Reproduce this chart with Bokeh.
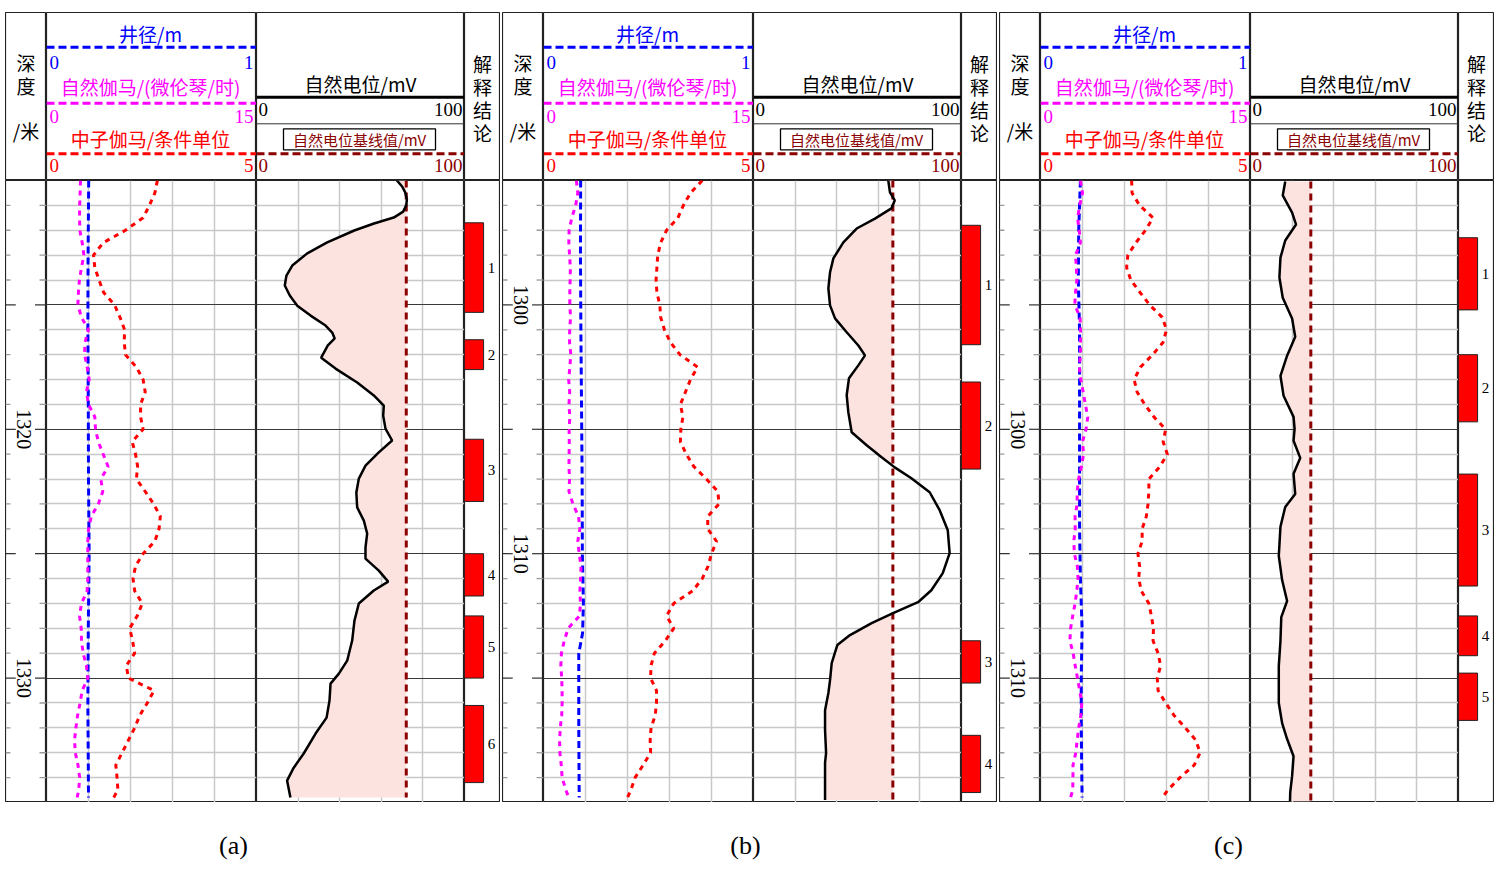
import numpy as np
from bokeh.plotting import figure
from bokeh.models import Range1d, FixedTicker, Grid, Spacer
from bokeh.layouts import row, column
from bokeh.embed import file_html
from bokeh.resources import INLINE
from bokeh.core.properties import value

CJK = "Noto Sans CJK SC"
SERIF = "Liberation Serif"

# ---------------- track scales ----------------
CAL_RANGE = (0, 1)      # 井径/m
NG_RANGE = (0, 15)      # 自然伽马
NR_RANGE = (0, 5)       # 中子伽马
SP_RANGE = (0, 100)     # 自然电位

# ---------------- panel (a) ----------------
A_TOP, A_BOT = 1310, 1335
A_LABELS = [1320, 1330]
A_DEPTH = [1310.0 + 0.5 * i for i in range(50)] + [1334.8]
A_NG = [2.43, 2.4, 2.37, 2.36, 2.38, 2.55, 2.67, 2.5, 2.35, 2.28,
        2.24, 2.5, 3.0, 2.75, 2.72, 2.9, 3.05, 2.85, 3.0, 3.45,
        3.5, 3.7, 4.05, 4.4, 3.88, 4.02, 3.7, 3.2, 3.0, 2.95,
        2.95, 2.95, 2.95, 2.9, 2.5, 2.36, 2.48, 2.5, 2.62, 2.85,
        2.95, 2.55, 2.4, 2.22, 2.1, 2.0, 2.06, 2.25, 2.37, 2.3, 2.19]
A_NR = [2.64, 2.58, 2.45, 2.3, 1.88, 1.35, 1.12, 1.15, 1.25, 1.36,
        1.62, 1.75, 1.86, 1.85, 1.88, 2.14, 2.3, 2.35, 2.24, 2.24,
        2.3, 2.04, 2.12, 2.17, 2.14, 2.35, 2.55, 2.71, 2.68, 2.58,
        2.3, 2.12, 2.06, 2.1, 2.28, 2.16, 1.98, 2.05, 2.1, 1.9,
        1.95, 2.56, 2.4, 2.22, 2.1, 1.95, 1.8, 1.65, 1.68, 1.7, 1.6]
A_CAL_DEPTH = [1310, 1313, 1316, 1319, 1322, 1325, 1328, 1331, 1334.8]
A_CAL = [0.201, 0.198, 0.197, 0.199, 0.2, 0.203, 0.199, 0.197, 0.2]
A_SP_DEPTH = [1310.0, 1310.24, 1310.48, 1310.76, 1311.0, 1311.25, 1311.49, 1311.73, 1312.01,
              1312.49, 1312.93, 1313.42, 1313.82, 1314.22, 1314.62, 1315.03, 1315.43, 1315.83,
              1316.11, 1316.35, 1316.63, 1317.12, 1317.56, 1318.12, 1318.64, 1319.05, 1319.45,
              1319.97, 1320.45, 1320.93, 1321.46, 1321.98, 1322.54, 1323.14, 1323.67, 1324.19,
              1324.75, 1325.2, 1325.68, 1326.12, 1326.48, 1327.0, 1327.69, 1328.49, 1329.3,
              1329.82, 1330.22, 1330.9, 1331.59, 1332.23, 1333.03, 1333.6, 1334.12, 1334.8]
A_SP = [67.5, 70.0, 71.5, 72.3, 72.0, 70.5, 66.0, 56.5, 47.0,
        34.0, 24.4, 17.2, 14.4, 13.6, 16.0, 19.6, 26.0, 33.2,
        36.4, 37.6, 34.3, 31.1, 38.0, 48.4, 56.4, 61.2, 60.9,
        62.0, 65.2, 58.8, 52.4, 49.2, 48.0, 48.4, 51.6, 53.2,
        52.4, 52.4, 58.8, 63.3, 56.4, 49.2, 47.1, 46.0, 43.6,
        39.6, 35.6, 35.1, 33.7, 28.4, 22.7, 17.9, 14.7, 16.3]
A_SP_BASE = 72
A_BAR_TOP = [1311.7, 1316.4, 1320.4, 1325.0, 1327.5, 1331.1]
A_BAR_BOT = [1315.3, 1317.6, 1322.9, 1326.7, 1330.0, 1334.2]

# ---------------- panel (b) ----------------
B_TOP, B_BOT = 1295, 1320
B_LABELS = [1300, 1310]
B_DEPTH = [1295.0 + 0.5 * i for i in range(50)] + [1319.8]
B_NG = [2.35, 2.45, 2.3, 2.02, 1.83, 1.81, 1.86, 1.92, 1.9, 1.88,
        1.88, 1.93, 1.87, 1.86, 1.95, 1.88, 1.8, 1.87, 1.82, 1.88,
        1.83, 1.84, 1.83, 1.82, 1.86, 1.82, 2.1, 2.5, 2.6, 2.45,
        2.55, 2.68, 2.65, 2.6, 2.64, 2.57, 1.76, 1.48, 1.28, 1.24,
        1.3, 1.33, 1.33, 1.3, 1.2, 1.15, 1.17, 1.27, 1.33, 1.6, 1.8]
B_NR = [3.78, 3.5, 3.33, 3.2, 2.93, 2.79, 2.72, 2.7, 2.68, 2.7,
        2.77, 2.79, 2.88, 3.02, 3.25, 3.67, 3.5, 3.38, 3.26, 3.32,
        3.27, 3.26, 3.4, 3.58, 3.88, 4.15, 4.18, 3.91, 3.91, 4.12,
        4.0, 3.92, 3.78, 3.55, 3.1, 2.93, 3.1, 2.9, 2.64, 2.56,
        2.55, 2.69, 2.69, 2.66, 2.56, 2.54, 2.55, 2.37, 2.18, 2.08, 2.0]
B_CAL_DEPTH = [1295, 1298, 1301, 1304, 1307, 1310, 1312, 1313.2, 1314, 1317, 1319.8]
B_CAL = [0.177, 0.176, 0.178, 0.181, 0.184, 0.185, 0.19, 0.186, 0.168, 0.168, 0.17]
B_SP_DEPTH = [1295.0, 1295.48, 1295.8, 1296.12, 1296.53, 1296.93, 1297.49, 1298.13, 1298.69,
              1299.34, 1300.02, 1300.54, 1301.1, 1301.63, 1302.03, 1302.43, 1302.95, 1303.63,
              1304.32, 1305.12, 1305.64, 1306.12, 1306.53, 1306.97, 1307.53, 1308.25, 1309.06,
              1309.98, 1310.78, 1311.47, 1311.95, 1312.39, 1312.79, 1313.27, 1313.67, 1314.4,
              1315.08, 1315.6, 1316.29, 1317.09, 1318.01, 1318.41, 1319.9]
B_SP = [64.8, 65.6, 67.9, 66.3, 58.4, 49.6, 43.2, 38.4, 36.8,
        36.0, 36.8, 39.2, 44.8, 50.4, 53.6, 50.4, 45.9, 44.8,
        45.6, 47.2, 54.4, 61.6, 67.9, 75.9, 84.7, 89.5, 93.4,
        94.3, 91.0, 85.5, 79.1, 67.1, 56.8, 46.4, 40.3, 37.6,
        36.8, 36.0, 34.4, 34.4, 34.9, 34.4, 34.4]
B_SP_BASE = 67
B_BAR_TOP = [1296.8, 1303.1, 1313.5, 1317.3]
B_BAR_BOT = [1301.6, 1306.6, 1315.2, 1319.6]

# ---------------- panel (c) ----------------
C_TOP, C_BOT = 1290, 1315
C_LABELS = [1300, 1310]
C_DEPTH = [1290.0 + 0.5 * i for i in range(50)] + [1314.8]
C_NG = [2.85, 3.0, 2.8, 2.65, 2.76, 2.85, 2.5, 2.56, 2.6, 2.5,
        2.45, 2.83, 2.86, 2.86, 2.86, 2.77, 2.88, 3.05, 3.2, 3.38,
        3.25, 3.0, 3.08, 2.92, 2.72, 2.62, 2.62, 2.47, 2.48, 2.38,
        2.42, 2.63, 2.68, 2.59, 2.47, 2.3, 2.15, 2.1, 2.33, 2.48,
        2.64, 2.8, 2.95, 2.88, 2.73, 2.62, 2.52, 2.32, 2.32, 2.3, 2.15]
C_NR = [2.17, 2.18, 2.36, 2.68, 2.5, 2.27, 2.08, 2.05, 2.15, 2.37,
        2.6, 2.9, 3.0, 2.92, 2.67, 2.38, 2.23, 2.3, 2.48, 2.7,
        2.98, 2.92, 3.02, 2.84, 2.58, 2.58, 2.56, 2.52, 2.42, 2.42,
        2.32, 2.36, 2.34, 2.4, 2.58, 2.64, 2.69, 2.68, 2.8, 2.86,
        2.78, 2.8, 2.98, 3.18, 3.45, 3.7, 3.8, 3.66, 3.32, 3.03, 2.9]
C_CAL_DEPTH = [1290, 1292, 1294, 1296, 1298, 1300, 1302, 1304, 1306, 1308, 1310, 1312, 1314.8]
C_CAL = [0.19, 0.182, 0.18, 0.186, 0.186, 0.186, 0.186, 0.186, 0.19, 0.198, 0.194, 0.194, 0.198]
C_SP_DEPTH = [1290.04, 1290.6, 1291.29, 1291.77, 1292.41, 1293.1, 1293.9, 1294.71, 1295.55,
              1296.28, 1297.04, 1297.85, 1298.65, 1299.5, 1299.98, 1300.46, 1301.15, 1301.79,
              1302.6, 1303.12, 1303.92, 1305.09, 1306.06, 1306.9, 1307.55, 1308.51, 1309.52,
              1310.16, 1311.0, 1311.81, 1312.45, 1313.14, 1313.94, 1314.59, 1314.95]
C_SP = [16.7, 15.5, 20.0, 21.9, 16.7, 14.4, 13.9, 15.5, 20.0,
        21.5, 17.6, 14.4, 15.9, 20.7, 21.2, 20.7, 23.9, 20.7,
        21.5, 16.7, 14.4, 13.6, 15.2, 17.6, 14.8, 14.4, 13.6,
        13.6, 13.6, 15.2, 17.6, 20.7, 20.0, 19.1, 19.0]
C_SP_BASE = 29
C_BAR_TOP = [1292.3, 1297.0, 1301.8, 1307.5, 1309.8]
C_BAR_BOT = [1295.2, 1299.7, 1306.3, 1309.1, 1311.7]

# ---------------- layout constants ----------------
W_DEPTH, W_CURVE, W_SP, W_INT = 41, 210, 208, 36
H_HEAD, H_DATA, H_LAB = 168, 622, 60
TOP_PAD = 12
LEFT_PAD = 3
BLUE, MAGENTA, RED, DRED = "#0000FF", "#FF00FF", "#FF0000", "#8B0000"
GRID_MINOR, GRID_MAJOR = "#C8C8C8", "#3A3A3A"
FILL = "#FDE3E0"


def base_fig(w, h, xr, yr, top_pad=0, outline=True):
    p = figure(width=w, height=h + top_pad, x_range=xr, y_range=yr, title=None,
               output_backend="svg", toolbar_location=None,
               x_axis_type=None, y_axis_type=None,
               min_border=0, min_border_left=0, min_border_right=0,
               min_border_bottom=0, min_border_top=top_pad)
    p.outline_line_color = "#222222" if outline else None
    p.outline_line_width = 1.2
    p.background_fill_color = "white"
    p.border_fill_color = "white"
    return p


def head_fig(w):
    return base_fig(w, H_HEAD, Range1d(0, w), Range1d(H_HEAD, 0), top_pad=TOP_PAD)


def txt(p, xs, ys, texts, color="black", font=CJK, size="19px", align="center"):
    p.text(x=xs, y=ys, text=texts, text_color=color, text_font=value(font),
           text_font_size=size, text_align=align, text_baseline="middle")


def fmt(v):
    return str(int(v)) if float(v).is_integer() else str(v)


def header_depth():
    p = head_fig(W_DEPTH)
    txt(p, [W_DEPTH / 2] * 3, [50, 73, 118], ["深", "度", "/米"])
    return p


def header_curve():
    w = W_CURVE
    p = head_fig(w)
    rows = [("井径/m", BLUE, 20.5, 34.7, 49.7, CAL_RANGE),
            ("自然伽马/(微伦琴/时)", MAGENTA, 74, 90.7, 104, NG_RANGE),
            ("中子伽马/条件单位", RED, 126, 141.3, 153, NR_RANGE)]
    for label, col, yt, yl, yn, rng in rows:
        txt(p, [w / 2 - 1], [yt], [label], color=col)
        p.line([0, w], [yl, yl], line_color=col, line_width=3, line_dash="8 4")
        txt(p, [3], [yn], [fmt(rng[0])], color=col, font=SERIF, size="19px", align="left")
        txt(p, [w - 3], [yn], [fmt(rng[1])], color=col, font=SERIF, size="19px", align="right")
    return p


def header_sp():
    w = W_SP
    p = head_fig(w)
    txt(p, [w / 2], [71], ["自然电位/mV"])
    p.line([0, w], [84.7, 84.7], line_color="black", line_width=3)
    txt(p, [2], [97], [fmt(SP_RANGE[0])], font=SERIF, align="left")
    txt(p, [w - 2], [97], [fmt(SP_RANGE[1])], font=SERIF, align="right")
    p.line([0, w], [111.3, 111.3], line_color="#333333", line_width=1)
    p.rect(x=[103], y=[126.8], width=152, height=21, fill_color=None,
           line_color="black", line_width=1.3)
    txt(p, [103], [126.5], ["自然电位基线值/mV"], color=DRED, size="15px")
    p.line([0, w], [141.3, 141.3], line_color=DRED, line_width=3, line_dash="8 4")
    txt(p, [2], [153], [fmt(SP_RANGE[0])], color=DRED, font=SERIF, align="left")
    txt(p, [w - 2], [153], [fmt(SP_RANGE[1])], color=DRED, font=SERIF, align="right")
    return p


def header_int():
    p = head_fig(W_INT)
    txt(p, [W_INT / 2] * 4, [51, 74, 97, 120], ["解", "释", "结", "论"])
    return p


def data_fig(w, xr, top, bot):
    return base_fig(w, H_DATA, xr, Range1d(start=bot, end=top))


def add_grids(p, xticks, top, bot):
    minor = [d for d in range(top + 1, bot) if d % 5]
    major = [d for d in range(top + 1, bot) if d % 5 == 0]
    p.add_layout(Grid(dimension=0, ticker=FixedTicker(ticks=xticks),
                      grid_line_color=GRID_MINOR, grid_line_width=1.5))
    p.add_layout(Grid(dimension=1, ticker=FixedTicker(ticks=minor),
                      grid_line_color=GRID_MINOR, grid_line_width=1.5))
    p.add_layout(Grid(dimension=1, ticker=FixedTicker(ticks=major),
                      grid_line_color=GRID_MAJOR, grid_line_width=1.2))


def data_depth(cfg):
    top, bot = cfg["top"], cfg["bot"]
    p = data_fig(W_DEPTH, Range1d(0, 1), top, bot)
    minor = [d for d in range(top + 1, bot) if d % 5]
    major = [d for d in range(top + 1, bot) if d % 5 == 0]
    n, m = len(minor), len(major)
    p.segment(x0=[0.0] * n, x1=[0.12] * n, y0=minor, y1=minor, line_color="#9A9A9A", line_width=1.3)
    p.segment(x0=[0.83] * n, x1=[1.0] * n, y0=minor, y1=minor, line_color="#9A9A9A", line_width=1.3)
    p.segment(x0=[0.0] * m, x1=[0.25] * m, y0=major, y1=major, line_color="#333333", line_width=1.2)
    p.segment(x0=[0.72] * m, x1=[1.0] * m, y0=major, y1=major, line_color="#333333", line_width=1.2)
    labs = cfg["labels"]
    p.text(x=[0.44] * len(labs), y=labs, text=[str(v) for v in labs], angle=-np.pi / 2,
           text_font=value(SERIF), text_font_size="20px", text_align="center",
           text_baseline="middle", text_color="black")
    return p


def data_curve(cfg):
    top, bot = cfg["top"], cfg["bot"]
    p = data_fig(W_CURVE, Range1d(*CAL_RANGE), top, bot)
    p.extra_x_ranges = {"ng": Range1d(*NG_RANGE), "nr": Range1d(*NR_RANGE)}
    add_grids(p, [0.2, 0.4, 0.6, 0.8], top, bot)
    p.line(cfg["cal"], cfg["cal_d"], line_color=BLUE, line_width=3, line_dash="7 4")
    p.line(cfg["ng"], cfg["depth"], x_range_name="ng", line_color=MAGENTA, line_width=3, line_dash="5 5")
    p.line(cfg["nr"], cfg["depth"], x_range_name="nr", line_color=RED, line_width=3, line_dash="5 5")
    return p


def data_sp(cfg):
    top, bot = cfg["top"], cfg["bot"]
    p = data_fig(W_SP, Range1d(*SP_RANGE), top, bot)
    add_grids(p, [20, 40, 60, 80], top, bot)
    sp = np.array(cfg["sp"], dtype=float)
    d = np.array(cfg["sp_d"], dtype=float)
    base = cfg["base"]
    p.harea(x1=np.minimum(sp, base), x2=np.full_like(sp, base), y=d, fill_color=FILL)
    p.line([base, base], [d[0], d[-1]], line_color=DRED, line_width=3, line_dash="7 5")
    p.line(sp, d, line_color="black", line_width=2.5)
    return p


def data_int(cfg):
    top, bot = cfg["top"], cfg["bot"]
    p = data_fig(W_INT, Range1d(0, 1), top, bot)
    bt, bb = cfg["bar_top"], cfg["bar_bot"]
    n = len(bt)
    p.quad(left=[0] * n, right=[0.53] * n, top=bt, bottom=bb,
           fill_color=RED, line_color="#222222", line_width=1)
    p.text(x=[0.75] * n, y=[(a + b) / 2 for a, b in zip(bt, bb)],
           text=[str(i + 1) for i in range(n)], text_font=value(SERIF),
           text_font_size="15px", text_align="center", text_baseline="middle",
           text_color="black")
    return p


def label_fig(cfg):
    w = W_DEPTH + W_CURVE + W_SP + W_INT
    p = base_fig(w, H_LAB, Range1d(0, w), Range1d(H_LAB, 0), outline=False)
    txt(p, [cfg["label_x"]], [43], [cfg["name"]], font=SERIF, size="26px")
    return p


PANELS = [
    dict(name="(a)", top=A_TOP, bot=A_BOT, labels=A_LABELS, depth=A_DEPTH, ng=A_NG, nr=A_NR,
         cal_d=A_CAL_DEPTH, cal=A_CAL, sp_d=A_SP_DEPTH, sp=A_SP, base=A_SP_BASE,
         bar_top=A_BAR_TOP, bar_bot=A_BAR_BOT, label_x=228),
    dict(name="(b)", top=B_TOP, bot=B_BOT, labels=B_LABELS, depth=B_DEPTH, ng=B_NG, nr=B_NR,
         cal_d=B_CAL_DEPTH, cal=B_CAL, sp_d=B_SP_DEPTH, sp=B_SP, base=B_SP_BASE,
         bar_top=B_BAR_TOP, bar_bot=B_BAR_BOT, label_x=243),
    dict(name="(c)", top=C_TOP, bot=C_BOT, labels=C_LABELS, depth=C_DEPTH, ng=C_NG, nr=C_NR,
         cal_d=C_CAL_DEPTH, cal=C_CAL, sp_d=C_SP_DEPTH, sp=C_SP, base=C_SP_BASE,
         bar_top=C_BAR_TOP, bar_bot=C_BAR_BOT, label_x=229),
]


def build_panel(cfg):
    head = row(header_depth(), header_curve(), header_sp(), header_int())
    data = row(data_depth(cfg), data_curve(cfg), data_sp(cfg), data_int(cfg))
    return column(head, data, label_fig(cfg))


root = row(Spacer(width=LEFT_PAD, height=10), *[build_panel(c) for c in PANELS], spacing=2)

open("out.html", "w").write(file_html(root, INLINE, title="测井曲线对比"))
